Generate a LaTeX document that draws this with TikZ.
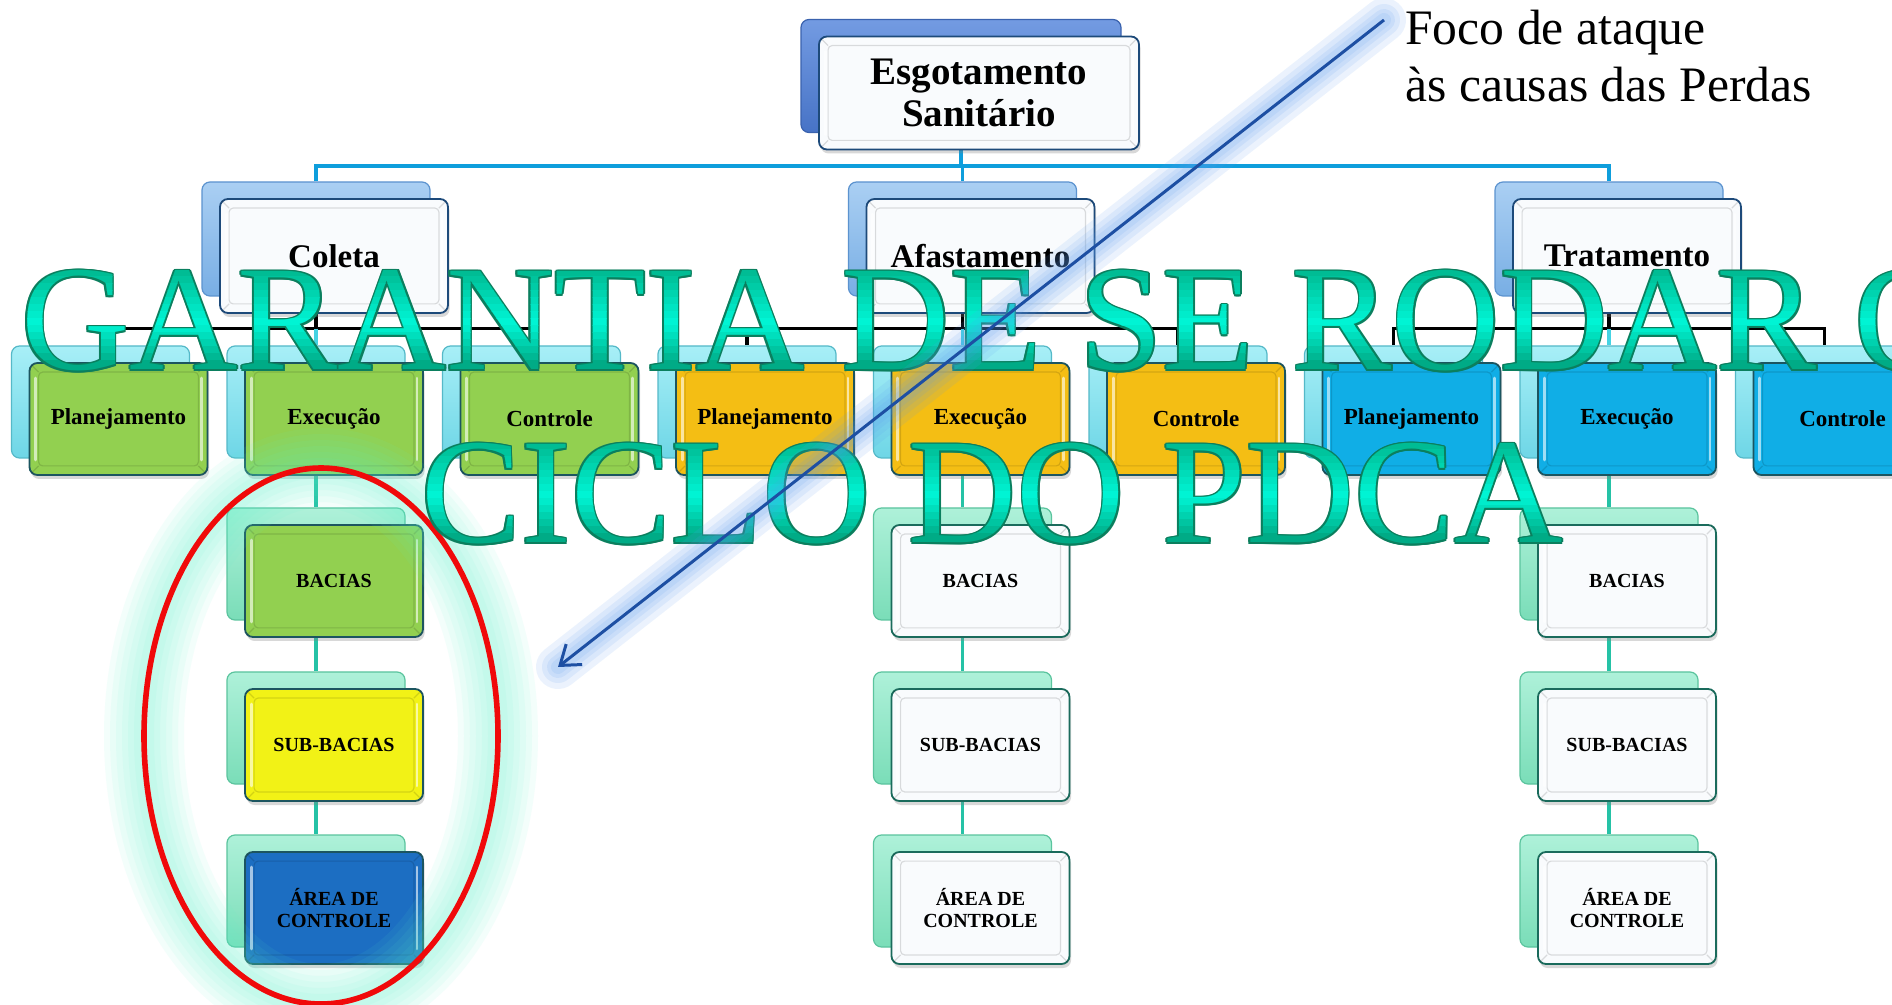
\documentclass[tikz,border=0pt]{standalone}
\usepackage{fontspec}
\setmainfont{Liberation Serif}
\usetikzlibrary{calc,shadows,arrows.meta}

% palette
\definecolor{rootbktop}{HTML}{739BE2}
\definecolor{rootbkbot}{HTML}{4773C6}
\definecolor{rootbkedge}{HTML}{3A62AE}
\definecolor{twobktop}{HTML}{AACFF3}
\definecolor{twobkbot}{HTML}{78AEE4}
\definecolor{twobkedge}{HTML}{5C93CF}
\definecolor{threebktop}{HTML}{A8EFF7}
\definecolor{threebkbot}{HTML}{6ED6E6}
\definecolor{threebkedge}{HTML}{55B9C8}
\definecolor{fourbktop}{HTML}{AEF1D9}
\definecolor{fourbkbot}{HTML}{7ADDB8}
\definecolor{fourbkedge}{HTML}{5BC49E}
\definecolor{navyedge}{HTML}{1D4A7A}
\definecolor{tealedge}{HTML}{1A6B5C}
\definecolor{celledge}{HTML}{1C5560}
\definecolor{paper}{HTML}{F9FBFD}
\definecolor{greenbox}{HTML}{92D050}
\definecolor{amberbox}{HTML}{F4BE14}
\definecolor{skybox}{HTML}{10AEE6}
\definecolor{yellowbox}{HTML}{F2F216}
\definecolor{deepbluebox}{HTML}{1C6EC2}
\definecolor{linkblue}{HTML}{0E9EDC}
\definecolor{linkcyan}{HTML}{45D3E3}
\definecolor{linkteal}{HTML}{25C2A6}
\definecolor{bigtop}{HTML}{00B88F}
\definecolor{bigmid}{HTML}{00F6D6}
\definecolor{bigbot}{HTML}{00A47F}
\definecolor{bigedge}{HTML}{0B7F5E}
\definecolor{arrowline}{HTML}{1D4FA3}
\definecolor{arrowhalo}{HTML}{5C9CF0}
\definecolor{ringred}{HTML}{F00A0A}
\definecolor{ringhalo}{HTML}{5FF3CF}

\newcommand\bigfont{\fontsize{75}{80}\selectfont}
\newcommand\rootfont{\fontsize{19.5}{21}\selectfont\bfseries}
\newcommand\twofont{\fontsize{16.5}{19}\selectfont\bfseries}
\newcommand\threefont{\fontsize{11.5}{13}\selectfont\bfseries}
\newcommand\fourfont{\fontsize{10}{11}\selectfont\bfseries}
\newcommand\focofont{\fontsize{24.8}{28}\selectfont}

\pgfdeclarelayer{base}
\pgfdeclarelayer{links}
\pgfsetlayers{base,links,main}

\tikzset{
  boxbase/.style={rectangle, rounded corners=4pt, inner sep=2pt, align=center, line width=0.9pt, text=black},
  rootsize/.style={minimum width=160pt, minimum height=56.5pt},
  twosize/.style={minimum width=114pt, minimum height=57pt},
  cellsize/.style={minimum width=89pt, minimum height=56pt},
  rootback/.style={top color=rootbktop, bottom color=rootbkbot, draw=rootbkedge, line width=.6pt},
  twoback/.style={top color=twobktop, bottom color=twobkbot, draw=twobkedge, line width=.6pt},
  threeback/.style={top color=threebktop, bottom color=threebkbot, draw=threebkedge, line width=.6pt},
  fourback/.style={top color=fourbktop, bottom color=fourbkbot, draw=fourbkedge, line width=.6pt},
  whitefront/.style={fill=paper, draw=navyedge},
  paperfront/.style={fill=paper, draw=tealedge},
  greenfront/.style={fill=greenbox, draw=celledge},
  amberfront/.style={fill=amberbox, draw=celledge},
  skyfront/.style={fill=skybox, draw=celledge},
  yellowfront/.style={fill=yellowbox, draw=celledge},
  deepfront/.style={fill=deepbluebox, draw=celledge},
  frontshadow/.style={drop shadow={shadow xshift=0.8pt, shadow yshift=-2pt, opacity=0.3}},
  bevelline/.style={draw=black, draw opacity=.13, line width=.6pt, rounded corners=2pt},
  glint/.style={draw=white, draw opacity=.6, line width=1.4pt, line cap=round},
  bluelink/.style={draw=linkblue, line width=1.8pt},
  blacklink/.style={draw=black, line width=1.8pt},
  ticklink/.style={draw=linkcyan, line width=1.8pt},
  teallink/.style={draw=linkteal, line width=1.8pt},
  bigtext/.style={inner sep=0pt, anchor=base, font=\bigfont},
}

% a raised front box with its offset back plate
\newcommand\boxpair[7]{%
  \node[boxbase,#3,#4] (#1b) at ($#2+(-18,-17)$) {};
  \node[boxbase,#3,#5,frontshadow,font=#6] (#1) at #2 {#7};
  \draw[bevelline] ($(#1.north west)+(10,10)$) rectangle ($(#1.south east)+(-10,-10)$);
  \draw[bevelline] ($(#1.north west)+(3,3)$) -- ($(#1.north west)+(10,10)$);
  \draw[bevelline] ($(#1.north east)+(-3,3)$) -- ($(#1.north east)+(-10,10)$);
  \draw[bevelline] ($(#1.south west)+(3,-3)$) -- ($(#1.south west)+(10,-10)$);
  \draw[bevelline] ($(#1.south east)+(-3,-3)$) -- ($(#1.south east)+(-10,-10)$);
  \draw[glint] ($(#1.north west)+(7,16)$) -- ($(#1.south west)+(7,-16)$);
  \draw[glint] ($(#1.north east)+(-7,16)$) -- ($(#1.south east)+(-7,-16)$);
}

% one line of the slogan: dark rim, then horizontal colour bands (#1 id, #2 baseline y, #3 text)
\newcommand\sloganline[3]{%
  \foreach \dx/\dy [count=\k] in {1.8/0,-1.8/0,0/1.8,0/-1.8,1.3/1.3,1.3/-1.3,-1.3/1.3,-1.3/-1.3}{
    \node[bigtext, text=bigedge] (#1rim\k) at ($(992,#2)+(\dx,\dy)$) {#3};
  }
  \foreach \i in {0,...,13}{
    \pgfmathsetmacro\tband{(\i+0.5)/14}
    \pgfmathsetmacro\pup{min(100,100*\tband/0.55)}
    \pgfmathsetmacro\pdown{max(0,100*(\tband-0.55)/0.45)}
    \colorlet{bandtmp}{bigmid!\pup!bigtop}
    \colorlet{bandcol}{bigbot!\pdown!bandtmp}
    \pgfmathsetmacro\ytop{ifthenelse(\i==0,#2-130,#2-100+\i*7)}
    \pgfmathsetmacro\ybot{ifthenelse(\i==13,#2+30,#2-100+(\i+1)*7)}
    \begin{scope}
      \clip (0,\ytop) rectangle (1892,\ybot);
      \node[bigtext, text=bandcol] (#1band\i) at (992,#2) {#3};
    \end{scope}
  }
}

\begin{document}
\begin{tikzpicture}[x=0.5pt, y=-0.5pt]
\begin{pgfonlayer}{base}
  \fill[white] (0,0) rectangle (1892,1005);
\end{pgfonlayer}
\useasboundingbox (0,0) rectangle (1892,1005);
\clip (0,0) rectangle (1892,1005);

% top of the tree
\boxpair{root}{(979,93)}{rootsize}{rootback}{whitefront}{\rootfont}{Esgotamento\\Sanitário}

% second level
\boxpair{coleta}{(334,256)}{twosize}{twoback}{whitefront}{\twofont}{Coleta}
\boxpair{afast}{(980.5,256)}{twosize}{twoback}{whitefront}{\twofont}{Afastamento}
\boxpair{trat}{(1627,256)}{twosize}{twoback}{whitefront}{\twofont}{Tratamento}

% PDCA stages
\boxpair{cp}{(118.5,419)}{cellsize}{threeback}{greenfront}{\threefont}{Planejamento}
\boxpair{ce}{(334,419)}{cellsize}{threeback}{greenfront}{\threefont}{Execução}
\boxpair{cc}{(549.5,419)}{cellsize}{threeback}{greenfront}{\threefont}{Controle}
\boxpair{ap}{(765,419)}{cellsize}{threeback}{amberfront}{\threefont}{Planejamento}
\boxpair{ae}{(980.5,419)}{cellsize}{threeback}{amberfront}{\threefont}{Execução}
\boxpair{ac}{(1196,419)}{cellsize}{threeback}{amberfront}{\threefont}{Controle}
\boxpair{tp}{(1411.5,419)}{cellsize}{threeback}{skyfront}{\threefont}{Planejamento}
\boxpair{te}{(1627,419)}{cellsize}{threeback}{skyfront}{\threefont}{Execução}
\boxpair{tc}{(1842.5,419)}{cellsize}{threeback}{skyfront}{\threefont}{Controle}

% execution breakdown
\boxpair{cba}{(334,581)}{cellsize}{fourback}{greenfront}{\fourfont}{BACIAS}
\boxpair{csb}{(334,745)}{cellsize}{fourback}{yellowfront}{\fourfont}{SUB-BACIAS}
\boxpair{car}{(334,908)}{cellsize}{fourback}{deepfront}{\fourfont}{ÁREA DE\\CONTROLE}
\boxpair{aba}{(980.5,581)}{cellsize}{fourback}{paperfront}{\fourfont}{BACIAS}
\boxpair{asb}{(980.5,745)}{cellsize}{fourback}{paperfront}{\fourfont}{SUB-BACIAS}
\boxpair{aar}{(980.5,908)}{cellsize}{fourback}{paperfront}{\fourfont}{ÁREA DE\\CONTROLE}
\boxpair{tba}{(1627,581)}{cellsize}{fourback}{paperfront}{\fourfont}{BACIAS}
\boxpair{tsb}{(1627,745)}{cellsize}{fourback}{paperfront}{\fourfont}{SUB-BACIAS}
\boxpair{tar}{(1627,908)}{cellsize}{fourback}{paperfront}{\fourfont}{ÁREA DE\\CONTROLE}

% connectors under the boxes
\begin{pgfonlayer}{links}
  \draw[bluelink] (rootb.south) -- ++(0,33) coordinate (rootj);
  \draw[bluelink] (coletab.north) |- (rootj) -| (tratb.north);
  \draw[bluelink] (rootj) -| (afastb.north);

  \draw[blacklink] (coletab.south) -- ++(0,32) coordinate (colj);
  \draw[blacklink] (cpb.north) |- (colj) -| (ccb.north);
  \draw[ticklink] (colj) -- (ceb.north);
  \draw[blacklink] (afastb.south) -- ++(0,32) coordinate (afj);
  \draw[blacklink] (apb.north) |- (afj) -| (acb.north);
  \draw[ticklink] (afj) -- (aeb.north);
  \draw[blacklink] (tratb.south) -- ++(0,32) coordinate (trj);
  \draw[blacklink] (tpb.north) |- (trj) -| (tcb.north);
  \draw[ticklink] (trj) -- (teb.north);

  \draw[teallink] (ceb.south) -- (cbab.north) (cbab.south) -- (csbb.north) (csbb.south) -- (carb.north);
  \draw[teallink] (aeb.south) -- (abab.north) (abab.south) -- (asbb.north) (asbb.south) -- (aarb.north);
  \draw[teallink] (teb.south) -- (tbab.north) (tbab.south) -- (tsbb.north) (tsbb.south) -- (tarb.north);
\end{pgfonlayer}

% highlighted column with a soft halo
\coordinate (ringc) at (321,736);
\foreach \w in {40,34,28,22,16,10}{
  \draw[ringhalo, line width=\w pt, opacity=.07] (ringc) ellipse [x radius=177, y radius=268];
}
\draw[ringred, line width=2.8pt] (ringc) ellipse [x radius=177, y radius=268];

% slogan across the chart
\sloganline{sloganone}{370}{GARANTIA DE SE RODAR O}
\sloganline{slogantwo}{543}{CICLO DO PDCA}

% annotation with its arrow
\node[font=\focofont, anchor=base west, inner sep=0pt] (focoone) at (1405,45) {Foco de ataque};
\node[font=\focofont, anchor=base west, inner sep=0pt] (focotwo) at (1405,102) {às causas das Perdas};
\coordinate (arrowtail) at (1384,20);
\coordinate (arrowtip) at (558,667);
\foreach \w in {22,16,11,7}{
  \draw[arrowhalo, line width=\w pt, opacity=.12, line cap=round] (arrowtail) -- (arrowtip);
}
\draw[arrowline, line width=1.5pt, -{Straight Barb[length=9pt,width=13pt]}] (arrowtail) -- (arrowtip);
\end{tikzpicture}
\end{document}
